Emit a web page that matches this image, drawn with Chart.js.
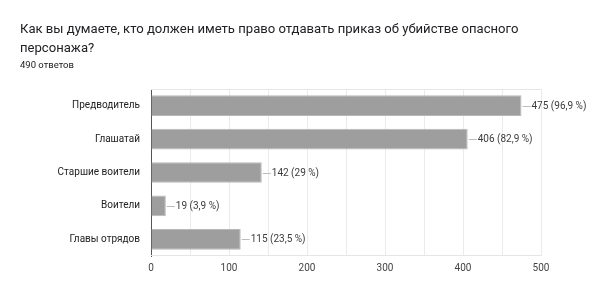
<!DOCTYPE html>
<html>
<head>
<meta charset="utf-8">
<script src="https://cdn.jsdelivr.net/npm/chart.js@4"></script>
<style>
    body { margin: 0; background: #fff; font-family: Roboto, Arial, sans-serif; }
    #wrap { position: relative; width: 602px; height: 305px; overflow: hidden; }
    #title { position: absolute; left: 20px; top: 19px; width: 575px; font-size: 13.1px; line-height: 19px; color: #202124; white-space: nowrap; }
    #sub { position: absolute; left: 20px; top: 59px; font-size: 9.5px; line-height: 12px; color: #202124; }
    canvas { position: absolute; left: 0; top: 0; }
</style>
</head>
<body>
<div id="wrap">
    <canvas id="myBarChart" width="602" height="305"></canvas>
    <div id="title">Как вы думаете, кто должен иметь право отдавать приказ об убийстве опасного<br>персонажа?</div>
    <div id="sub">490 ответов</div>
</div>
<script>
const categories = ['Предводитель', 'Глашатай', 'Старшие воители', 'Воители', 'Главы отрядов'];
const counts = [475, 406, 142, 19, 115];
const percents = ['96,9', '82,9', '29', '3,9', '23,5'];
const xTicks = [0, 100, 200, 300, 400, 500];

// top and bottom lines of the plot frame
const framePlugin = {
    id: 'frame',
    beforeDatasetsDraw(chart) {
        const { ctx, chartArea: a } = chart;
        ctx.save();
        ctx.strokeStyle = '#e6e6e6';
        ctx.lineWidth = 1;
        ctx.beginPath();
        ctx.moveTo(a.left, a.top + 0.5);
        ctx.lineTo(a.right, a.top + 0.5);
        ctx.moveTo(a.left, a.bottom - 0.5);
        ctx.lineTo(a.right, a.bottom - 0.5);
        ctx.stroke();
        ctx.restore();
    }
};

// value labels with a short leader line
const valueLabels = {
    id: 'valueLabels',
    afterDatasetsDraw(chart) {
        const ctx = chart.ctx;
        const meta = chart.getDatasetMeta(0);
        ctx.save();
        ctx.font = '10px Roboto, Arial, sans-serif';
        ctx.textBaseline = 'middle';
        meta.data.forEach((bar, i) => {
            const x = bar.x, y = Math.round(bar.y) + 0.5;
            ctx.strokeStyle = '#bdbdbd';
            ctx.beginPath();
            ctx.moveTo(x + 1, y);
            ctx.lineTo(x + 9, y);
            ctx.stroke();
            ctx.fillStyle = '#3c3c3c';
            ctx.fillText(counts[i] + ' (' + percents[i] + ' %)', x + 10, y);
        });
        ctx.restore();
    }
};

const ctx = document.getElementById('myBarChart').getContext('2d');
new Chart(ctx, {
    type: 'bar',
    data: {
        labels: categories,
        datasets: [{
            data: counts,
            backgroundColor: '#9e9e9e',
            borderColor: '#b8b8b8',
            borderWidth: 1,
            barPercentage: 0.62,
            categoryPercentage: 1
        }]
    },
    plugins: [framePlugin, valueLabels],
    options: {
        indexAxis: 'y',
        responsive: false,
        animation: false,
        layout: { padding: { top: 89, right: 61, bottom: 25, left: 0 } },
        plugins: {
            legend: { display: false },
            tooltip: { enabled: false }
        },
        scales: {
            x: {
                min: 0,
                max: 500,
                afterFit: function(scale) { scale.height = 24; },
                afterBuildTicks: function(scale) {
                    const t = [];
                    for (let v = 0; v <= 500; v += 50) t.push({ value: v });
                    scale.ticks = t;
                },
                ticks: {
                    autoSkip: false,
                    maxRotation: 0,
                    padding: 6,
                    color: '#444',
                    font: { family: 'Roboto, Arial, sans-serif', size: 10 },
                    callback: function(value) {
                        return xTicks.includes(value) ? value : '';
                    }
                },
                grid: { color: '#ebebeb', drawTicks: false },
                border: { display: false }
            },
            y: {
                afterFit: function(scale) { scale.width = 151; },
                ticks: {
                    padding: 3,
                    color: '#222',
                    font: { family: 'Roboto, Arial, sans-serif', size: 10 }
                },
                grid: { display: false },
                border: { display: true, color: '#555', width: 1 }
            }
        }
    }
});
</script>
</body>
</html>
